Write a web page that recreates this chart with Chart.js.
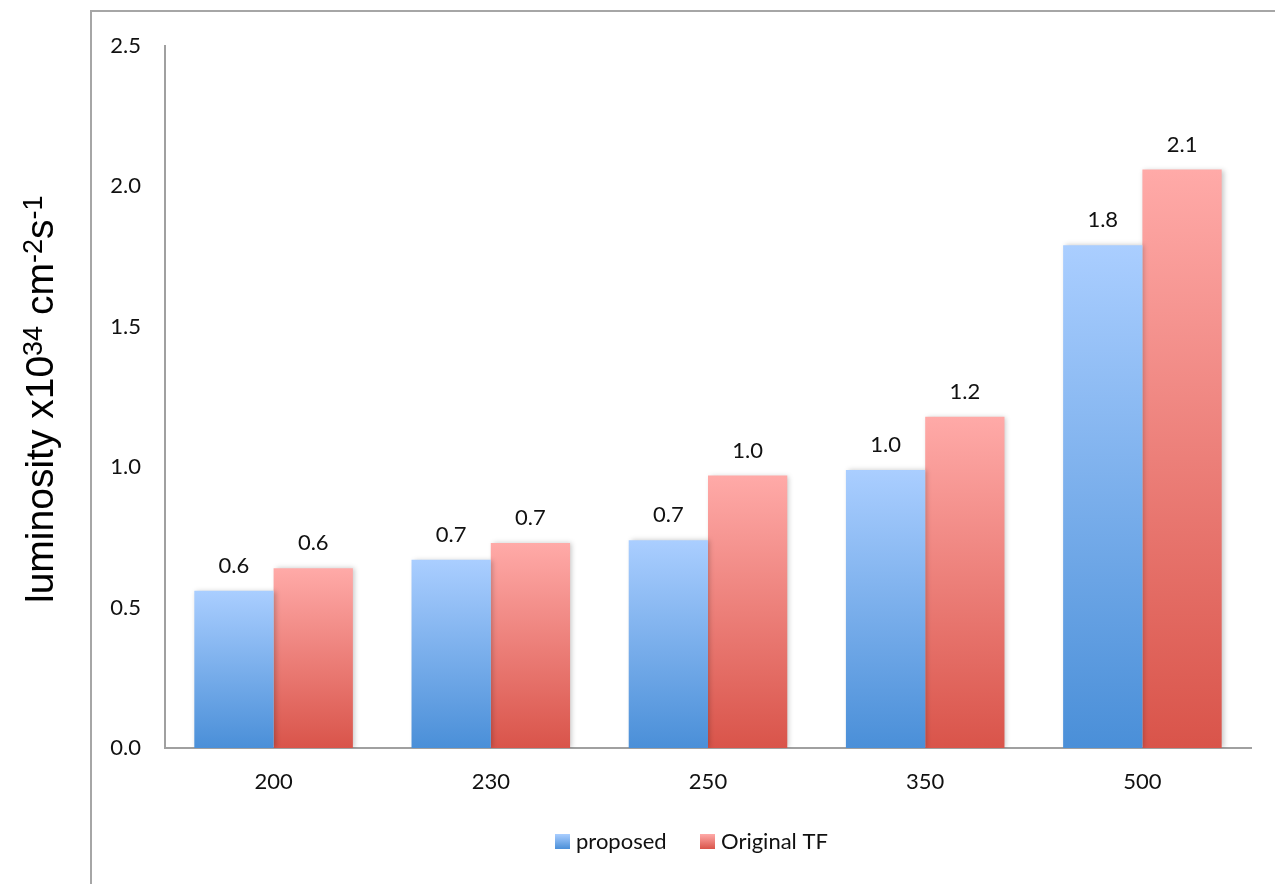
<!DOCTYPE html>
<html>
<head>
<meta charset="utf-8">
<script src="https://cdn.jsdelivr.net/npm/chart.js@4.4.1/dist/chart.umd.min.js"></script>
<style>
  html, body { margin: 0; padding: 0; background: #ffffff; }
  #wrap { width: 1275px; height: 884px; position: relative; }
</style>
</head>
<body>
<div id="wrap"><canvas id="chart"></canvas></div>
<script>
// Beam energy categories and luminosity values (x10^34 cm^-2 s^-1)
const categories = ['200', '230', '250', '350', '500'];
const proposed   = [0.56, 0.67, 0.74, 0.99, 1.79];
const originalTF = [0.64, 0.73, 0.97, 1.18, 2.06];
const yTicks     = [0, 0.5, 1.0, 1.5, 2.0, 2.5];
const seriesNames = ['proposed', 'Original TF'];

const TICK_FONT = 'Lato, "Open Sans", sans-serif';
const TITLE_FONT = '"Liberation Sans", Arial, sans-serif';

const BLUE = { top: '#aaceff', bottom: '#4a8fd8' };
const RED  = { top: '#ffaaa8', bottom: '#d9544a' };

// Vertical gradient running from each bar's top down to the baseline
function barGradient(c) {
  return (ctx) => {
    const chart = ctx.chart;
    if (!chart.chartArea || ctx.type !== 'data') return c.bottom;
    const y = chart.scales.y;
    const yTop = y.getPixelForValue(ctx.raw);
    const yBase = y.getPixelForValue(0);
    const g = chart.ctx.createLinearGradient(0, yTop, 0, yBase);
    g.addColorStop(0, c.top);
    g.addColorStop(1, c.bottom);
    return g;
  };
}

// Outer frame around the plot
const framePlugin = {
  id: 'frame',
  beforeDraw(chart) {
    const ctx = chart.ctx;
    ctx.save();
    ctx.strokeStyle = '#a6a6a6';
    ctx.lineWidth = 2;
    ctx.beginPath();
    ctx.moveTo(91, chart.height);
    ctx.lineTo(91, 11);
    ctx.lineTo(chart.width, 11);
    ctx.stroke();
    ctx.restore();
  }
};

// Soft shadow behind the bars
const shadowPlugin = {
  id: 'barShadow',
  beforeDatasetsDraw(chart) {
    const ctx = chart.ctx;
    ctx.save();
    ctx.shadowColor = 'rgba(0,0,0,0.22)';
    ctx.shadowBlur = 5;
    ctx.shadowOffsetX = 2;
    ctx.shadowOffsetY = 0;
  },
  afterDatasetsDraw(chart) {
    chart.ctx.restore();
  }
};

// Value labels above each bar
const valueLabels = {
  id: 'valueLabels',
  afterDatasetsDraw(chart) {
    const ctx = chart.ctx;
    ctx.save();
    ctx.font = '22px ' + TICK_FONT;
    ctx.fillStyle = '#111111';
    ctx.textAlign = 'center';
    ctx.textBaseline = 'middle';
    chart.data.datasets.forEach((ds, i) => {
      chart.getDatasetMeta(i).data.forEach((el, j) => {
        ctx.fillText(ds.data[j].toFixed(1), el.x, el.y - 25);
      });
    });
    ctx.restore();
  }
};

// Rotated y-axis title with superscripts
const yTitle = {
  id: 'yTitle',
  afterDraw(chart) {
    const ctx = chart.ctx;
    const main = '39px ' + TITLE_FONT;
    const sup = '27px ' + TITLE_FONT;
    const parts = [
      ['luminosity x10', main, 0],
      ['34', sup, -11],
      [' cm', main, 0],
      ['-2', sup, -11],
      ['s', main, 0],
      ['-1', sup, -11]
    ];
    ctx.save();
    ctx.translate(53, 603);
    ctx.rotate(-Math.PI / 2);
    ctx.fillStyle = '#000000';
    ctx.textBaseline = 'alphabetic';
    ctx.textAlign = 'left';
    let x = 0;
    parts.forEach(([t, f, dy]) => {
      ctx.font = f;
      ctx.fillText(t, x, dy);
      x += ctx.measureText(t).width;
    });
    ctx.restore();
  }
};

// Legend below the axis
const legendPlugin = {
  id: 'customLegend',
  afterDraw(chart) {
    const ctx = chart.ctx;
    const items = [
      { label: seriesNames[0], c: BLUE, x: 555 },
      { label: seriesNames[1], c: RED, x: 700 }
    ];
    const cy = 842;
    ctx.save();
    ctx.font = '22px ' + TICK_FONT;
    ctx.textBaseline = 'middle';
    ctx.textAlign = 'left';
    items.forEach(it => {
      const g = ctx.createLinearGradient(0, cy - 8, 0, cy + 7);
      g.addColorStop(0, it.c.top);
      g.addColorStop(1, it.c.bottom);
      ctx.fillStyle = g;
      ctx.fillRect(it.x, cy - 8, 15, 15);
      ctx.fillStyle = '#111111';
      ctx.fillText(it.label, it.x + 21, cy);
    });
    ctx.restore();
  }
};

new Chart(document.getElementById('chart'), {
  type: 'bar',
  data: {
    labels: categories,
    datasets: [
      { label: seriesNames[0], data: proposed, backgroundColor: barGradient(BLUE), borderWidth: 0 },
      { label: seriesNames[1], data: originalTF, backgroundColor: barGradient(RED), borderWidth: 0 }
    ]
  },
  options: {
    responsive: true,
    maintainAspectRatio: false,
    animation: false,
    layout: { padding: { left: 0, right: 24, top: 46, bottom: 76 } },
    datasets: { bar: { categoryPercentage: 0.73, barPercentage: 1.0 } },
    plugins: {
      legend: { display: false },
      tooltip: { enabled: false },
      title: { display: false }
    },
    scales: {
      x: {
        grid: { display: false, drawTicks: false },
        border: { display: true, color: '#a0a0a0', width: 2 },
        ticks: { color: '#111111', font: { family: TICK_FONT, size: 22 }, padding: 21 },
        afterFit(scale) { scale.height = 60; }
      },
      y: {
        min: 0,
        max: 2.5,
        grid: { display: false, drawTicks: false },
        border: { display: true, color: '#a0a0a0', width: 2 },
        afterBuildTicks(scale) { scale.ticks = yTicks.map(v => ({ value: v })); },
        ticks: {
          color: '#111111',
          font: { family: TICK_FONT, size: 22 },
          padding: 24,
          callback: (v) => Number(v).toFixed(1)
        },
        afterFit(scale) { scale.width = 165; }
      }
    }
  },
  plugins: [framePlugin, shadowPlugin, valueLabels, yTitle, legendPlugin]
});
</script>
</body>
</html>
